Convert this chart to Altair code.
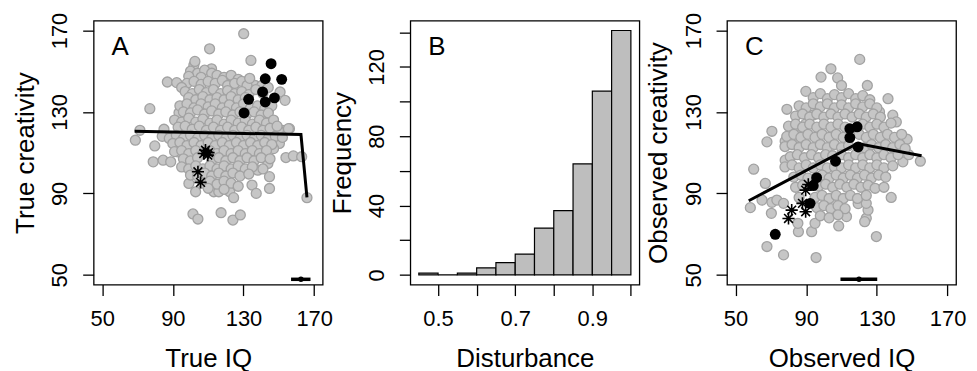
import altair as alt
import pandas as pd

FONT = "Liberation Sans"

# ---------------- Panel A: true IQ vs true creativity ----------------
a_gray = [
    (130.1,168.4),(110.8,161.0),(134.2,155.3),(101.9,152.9),(102.5,154.8),(111.9,151.2),
    (86.9,144.7),(92.2,144.4),(77.0,131.6),(68.8,116.1),(71.4,121.0),(79.8,113.3),
    (84.5,119.4),(85.0,121.5),(78.9,105.5),(84.5,106.3),(88.8,105.5),(92.6,110.4),
    (99.1,94.9),(102.9,90.8),(101.4,79.9),(104.2,77.4),(117.3,80.5),(124.0,76.9),
    (128.2,79.4),(113.2,90.8),(116.0,90.8),(122.2,90.8),(124.4,87.9),(134.8,94.1),
    (137.2,90.0),(144.7,98.2),(144.7,92.4),(143.8,104.7),(154.0,107.6),(158.2,108.4),
    (162.9,108.0),(156.0,121.8),(152.2,121.0),(165.9,87.9),(150.7,139.8),(153.5,135.7),
    (150.3,114.5),(147.0,112.0),(138.1,101.4),(136.6,143.0),(144.0,130.0),(140.4,126.7),
    (131.0,144.7),(124.4,144.7),(140.4,143.0),(93.5,129.6),(99.0,131.0),(149.8,121.0),
    (145.0,118.6),(155.4,121.8),
    (100,150),(104,149),(108,150.5),(112,149),(106,147),(99,147.5),(115,148),(119,147),
    (123,148),(127,146),
    (98,144),(102,145),(106,143.5),(110,145),(114,144),(118,145.5),(121,143),(125,144),
    (129,145),(132,143),(95,142),(133.5,146.5),
    (97,140),(101,139),(105,141),(109,139.5),(113,141),(117,139),(121,140.5),(125,139),
    (129,140),(133,138.5),(137,141),(141,139),(144,142),(99,137),(103,136),(107,137.5),
    (111,136),(115,137),(119,136),(123,137.5),(127,136),(131,137),
    (94,133),(98,134),(102,132),(106,134),(110,132.5),(114,134),(118,132),(122,133.5),
    (126,132),(130,134),(134,132),(138,133),(142,131.5),(146,133),(96,130),(100,129.5),
    (104,131),(108,129),(112,130.5),(116,129),(120,130),(124,128.5),(128,130),(132,129),
    (136,130),(140,128.5),(144,129.5),
    (91,126),(95,125),(99,127),(103,125),(107,126.5),(111,124.5),(115,126),(119,124),
    (123,126),(127,124.5),(131,126),(135,124),(139,126),(143,124.5),(147,126),(93,122.5),
    (97,123),(101,121.5),(105,123),(109,121),(113,122.5),(117,121),(121,122.5),(125,121),
    (129,122.5),(133,121),(137,122.5),(141,121),(145,122),(149,123),
    (84,118),(88,117),(92,118.5),(96,117),(100,118.5),(104,117),(108,118.5),(112,117),
    (116,118.5),(120,117),(124,118.5),(128,117),(132,118.5),(136,117),(140,118.5),(144,117),
    (148,118),(152,117.5),(90,114.5),(94,115),(98,113.5),(102,115),(106,113.5),(110,115),
    (114,113.5),(118,115),(122,113.5),(126,115),(130,113.5),(134,115),(138,113.5),(142,115),
    (146,114),
    (91,110.5),(95,111),(99,109.5),(103,111),(107,109.5),(111,111),(115,109.5),(119,111),
    (123,109.5),(127,111),(131,109.5),(135,111),(139,109.5),(143,111),(96,107),(100,106),
    (104,107.5),(112,106),(116,107.5),(120,106),(124,107.5),(128,106),(132,107.5),(136,106),
    (140,107.5),(145,107),
    (95,103),(99,102),(103,103.5),(107,102),(111,103.5),(115,102),(119,103.5),(123,102),
    (127,103.5),(131,102),(135,103),(141,102),(100,99),(104,98.5),(108,100),(112,98.5),
    (116,100),(120,98.5),(124,100),(128,98.5),(133,99.5),
    (107,95),(111,96),(115,94.5),(119,96),(123,95),(127,93.5),(110,92.5),(119,92),
]
a_black = [(145.6,153.7),(142.3,146.3),(151.6,146.0),(140.8,139.8),(132.9,136.2),
           (142.3,134.9),(147.5,136.9),(130.3,129.5)]
a_stars = [(107.5,109.6),(109.8,108.8),(108.5,111.2),(110.2,110.0),(104.2,100.6),(105.7,95.4)]
a_line = [(68.4,120.5),(162.5,118.9),(165.9,88.0)]
a_ci = (156.9, 162.5, 167.9, 47.8)

# ---------------- Panel B: histogram of disturbance ----------------
b_start = [0.45,0.50,0.55,0.60,0.65,0.70,0.75,0.80,0.85,0.90,0.95]
b_count = [1,0,1,4,7,12,27,37,64,106,141]

# ---------------- Panel C: observed IQ vs observed creativity ----------------
c_gray = [
    (120.3,155.8),(104.0,151.2),(98.4,147.1),(107.8,146.7),(110.0,143.0),(89.8,140.1),
    (79.1,131.3),(70.6,120.5),(67.8,115.3),(78.1,115.6),(60.3,101.9),(58.4,83.0),
    (66.9,94.9),(65.0,86.7),(70.6,85.6),(70.3,80.2),(67.8,63.9),(77.2,59.8),(95.6,58.5),
    (85.6,71.2),(85.3,75.3),(129.7,68.8),(138.1,88.0),(147.1,116.6),(154.6,105.8),
    (144.7,105.5),(136.3,136.5),(124.6,143.0),(124.0,77.8),(125.0,81.8),(119.4,85.0),
    (108.4,74.0),(112.8,78.6),(93.1,71.2),(95.0,75.3),(78.1,106.3),(73.4,86.7),(77.2,85.1),
    (123.1,76.1),(124.0,85.1),(139.0,128.4),(141.0,125.1),(131.5,130.0),(94.0,128.5),
    (89.6,124.0),(86.5,121.0),(83.7,116.9),(148.0,109.0),
    (94,137),(98,139),(102,136.5),(106,138.5),(110,137),(114,139),(118,136.5),(122,138),(126,136),
    (86,133),(90,132),(94,134),(98,132.5),(102,134),(106,132),(110,133.5),(114,132),(118,134),
    (122,132.5),(126,134),(130,132),
    (84,128),(88,129),(92,127.5),(96,129),(100,127.5),(104,129),(108,127.5),(112,129),(116,127.5),
    (120,129),(124,127.5),(128,129),(132,127.5),
    (80,123),(84,124),(88,122.5),(92,124),(96,122.5),(100,124),(104,122.5),(108,124),(112,122.5),
    (122,124),(126,122.5),(130,124),(134,122.5),(138,124.5),
    (79,118),(83,119),(87,117.5),(91,119),(95,117.5),(99,119),(103,117.5),(107,119),(111,117.5),
    (120,119),(124,117.5),(128,119),(132,117.5),(136,119),(140,117.5),(144,119),
    (78,113),(82,114),(86,112.5),(90,114),(94,112.5),(98,114),(102,112.5),(106,114),(110,112.5),
    (114,113.5),(123,112.5),(127,114),(131,112.5),(135,114),(139,112.5),(143,114),(146,112),
    (81,108),(85,109),(89,107.5),(93,109),(97,107.5),(101,109),(105,108.5),(110,109),(114,107.5),
    (118,109),(122,107.5),(126,109),(130,107.5),(134,109),(138,107.5),(142,109),
    (78,103),(82,104),(86,102.5),(90,104),(94,102.5),(98,104),(102,102.5),(106,103),(110,102.5),
    (114,104),(118,102.5),(122,104),(126,102.5),(130,104),(134,102.5),(139,103.5),
    (83,98),(87,99),(91,97.5),(99,99),(103,97.5),(107,99),(111,97.5),(115,99),(119,97.5),
    (123,99),(127,97.5),(131,99),(135,98),
    (84,93),(88,94),(97,93.5),(101,94.5),(105,93),(109,94.5),(113,93),(117,94.5),(121,93),
    (125,94),(129,92.5),(134,93),
    (86,88),(95,88),(99,89),(103,87.5),(107,89),(111,87.5),(115,89),(119,87.5),(124,89),
    (96,83),(100,84),(104,82.5),(108,84),(112,82.5),
    (98,79),(103,78),(108,79.5),
]
c_black = [(72.5,69.9),(92.2,85.1),(94.0,93.8),(95.9,97.7),(106.6,105.8),(114.7,117.4),
           (114.7,121.8),(118.8,122.7),(119.4,112.8)]
c_stars = [(80.0,77.7),(81.8,81.8),(87.9,85.1),(89.7,81.0),(89.7,91.6),(91.2,94.4)]
c_line = [(57.5,86.4),(119.0,114.5),(155.3,108.5)]
c_ci = (109.4, 119.9, 130.2, 47.8)

STAR = "M0,-1L0,1M-1,0L1,0M-0.72,-0.72L0.72,0.72M-0.72,0.72L0.72,-0.72"
W, H = 230, 265


def xaxis(title, values, **kw):
    return alt.Axis(title=title, values=values, tickSize=11, labelPadding=30,
                    labelAngle=0, labelAlign="center", labelBaseline="alphabetic",
                    titleX=W / 2, titleY=82, titleAlign="center",
                    titleBaseline="alphabetic", titleAngle=0, **kw)


def yaxis(title, values, **kw):
    return alt.Axis(title=title, values=values, tickSize=11, labelPadding=16,
                    labelAngle=270, labelAlign="center", labelBaseline="alphabetic",
                    titleX=-60.4, titleY=H / 2, titleAlign="center",
                    titleBaseline="alphabetic", titleAngle=270, **kw)


def letter(ch):
    return alt.Chart(pd.DataFrame({"t": [ch]})).mark_text(
        font=FONT, fontSize=26, align="left", baseline="alphabetic", color="black"
    ).encode(text="t:N", x=alt.value(18), y=alt.value(34))


def scatter(gray, black, stars, line, ci, ch, xt, yt):
    xs = alt.Scale(domain=[45.2, 174.8], nice=False, zero=False)
    ys = alt.Scale(domain=[45.2, 174.8], nice=False, zero=False)
    X = alt.X("x:Q", scale=xs, axis=xaxis(xt, [50, 90, 130, 170]))
    Y = alt.Y("y:Q", scale=ys, axis=yaxis(yt, [50, 90, 130, 170]))
    g = pd.DataFrame(gray, columns=["x", "y"])
    b = pd.DataFrame(black, columns=["x", "y"])
    s = pd.DataFrame(stars, columns=["x", "y"])
    ln = pd.DataFrame(line, columns=["x", "y"])
    ln["i"] = range(len(ln))
    cdf = pd.DataFrame({"lo": [ci[0]], "mid": [ci[1]], "hi": [ci[2]], "y": [ci[3]]})
    l_gray = alt.Chart(g).mark_point(shape="circle", fill="#C6C6C6", stroke="#A2A2A2",
                                      strokeWidth=1.3, size=100, opacity=1, fillOpacity=1
                                      ).encode(x=X, y=Y)
    l_black = alt.Chart(b).mark_circle(size=120, color="black", opacity=1).encode(x="x:Q", y="y:Q")
    l_star = alt.Chart(s).mark_point(shape=STAR, size=150, stroke="black", strokeWidth=1.6,
                                     opacity=1).encode(x="x:Q", y="y:Q")
    l_line = alt.Chart(ln).mark_line(color="black", strokeWidth=3).encode(
        x="x:Q", y="y:Q", order="i:Q")
    l_ci = alt.Chart(cdf).mark_rule(color="black", strokeWidth=3.5).encode(
        x="lo:Q", x2="hi:Q", y="y:Q")
    l_mid = alt.Chart(cdf).mark_circle(color="black", size=30, opacity=1).encode(
        x="mid:Q", y="y:Q")
    return alt.layer(l_gray, l_black, l_star, l_line, l_ci, l_mid, letter(ch)).properties(
        width=W, height=H)


pa = scatter(a_gray, a_black, a_stars, a_line, a_ci, "A", "True IQ", "True creativity")
pc = scatter(c_gray, c_black, c_stars, c_line, c_ci, "C", "Observed IQ", "Observed creativity")

hist = pd.DataFrame({"start": b_start, "count": b_count})
hist["end"] = hist["start"] + 0.05
bars = alt.Chart(hist).mark_bar(fill="#BEBEBE", stroke="black", strokeWidth=1.2).encode(
    x=alt.X("start:Q", scale=alt.Scale(domain=[0.428, 1.022], nice=False, zero=False),
            axis=xaxis("Disturbance", [0.5, 0.6, 0.7, 0.8, 0.9, 1.0], format=".1f",
                       labelExpr="indexof(['0.5','0.7','0.9'], datum.label) >= 0 ? datum.label : ''")),
    x2="end:Q",
    y=alt.Y("count:Q", scale=alt.Scale(domain=[-5.64, 146.64], nice=False, zero=False),
            axis=yaxis("Frequency", [0, 20, 40, 60, 80, 100, 120, 140],
                       labelExpr="datum.value % 40 == 0 ? datum.label : ''")),
    y2=alt.datum(0),
)
pb = alt.layer(bars, letter("B")).properties(width=W, height=H)

chart = alt.hconcat(pa, pb, pc, spacing=88, bounds="flush").properties(
    padding={"left": 3, "top": 2, "right": 2, "bottom": 0}
).configure_view(stroke="black", strokeWidth=1.3).configure_axis(
    labelFont=FONT, titleFont=FONT, labelFontSize=22, titleFontSize=26,
    titleFontWeight="normal", labelColor="black", titleColor="black",
    tickColor="black", tickWidth=1.3, domain=False, grid=False, labelOverlap=False,
    labelBound=False
)

chart.save("out.html", embed_options={"renderer": "svg", "actions": False})
